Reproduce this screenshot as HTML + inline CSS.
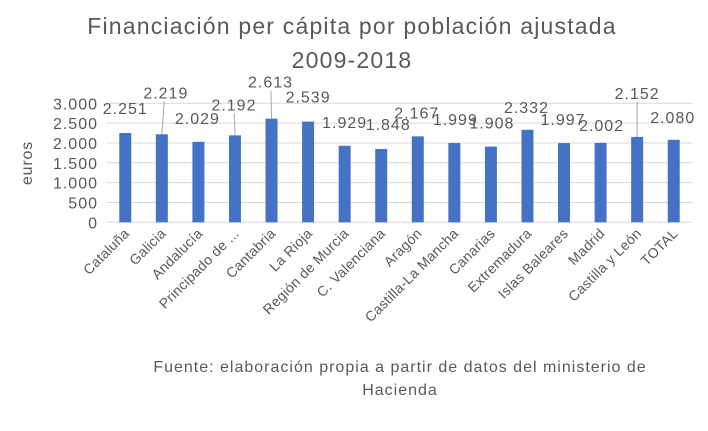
<!DOCTYPE html>
<html><head><meta charset="utf-8"><style>
body{margin:0;background:#fff}
svg text{font-family:"Liberation Sans",sans-serif;fill:#595959}
</style></head><body>
<svg width="708" height="426" id="c">
<text x="352" y="34" font-size="23" letter-spacing="1.2" text-anchor="middle">Financiación per cápita por población ajustada</text>
<text x="352" y="68" font-size="23" letter-spacing="1.2" text-anchor="middle">2009-2018</text>
<text transform="translate(32,163) rotate(-90)" font-size="16" letter-spacing="0.8" text-anchor="middle">euros</text>
<text x="400" y="372" font-size="16" letter-spacing="1" text-anchor="middle">Fuente: elaboración propia a partir de datos del ministerio de</text>
<text x="400" y="395" font-size="16" letter-spacing="1" text-anchor="middle">Hacienda</text>
<g id="grid"></g><g id="bars"></g><g id="labels"></g><g id="xl"></g>
</svg>
<script>
const categories=["Cataluña","Galicia","Andalucía","Principado de ...","Cantabria","La Rioja","Región de Murcia","C. Valenciana","Aragón","Castilla-La Mancha","Canarias","Extremadura","Islas Baleares","Madrid","Castilla y León","TOTAL"];
const values=[2251,2219,2029,2192,2613,2539,1929,1848,2167,1999,1908,2332,1997,2002,2152,2080];
const valueLabels=["2.251","2.219","2.029","2.192","2.613","2.539","1.929","1.848","2.167","1.999","1.908","2.332","1.997","2.002","2.152","2.080"];
const yTicks=[0,500,1000,1500,2000,2500,3000];
const yTickLabels=["0","500","1.000","1.500","2.000","2.500","3.000"];
// label offsets (pixels): dx from bar center, dy from bar top; leader flag
const labelDx=[0,4,-1,-1,-1,0,0,7,-1,1,1,-1,-1,1,0,-1];
const labelDy=[-20,-37,-19,-26,-32,-20,-19,-20,-19,-19,-19,-18,-19,-13,-39,-18];
const leader=[0,1,0,1,1,0,0,0,0,0,0,0,0,0,1,0];
const NS="http://www.w3.org/2000/svg";
const X0=107,X1=692,Y0=222.3,Y1=103.3,YMAX=3000;
const step=(X1-X0)/categories.length;
const xs=i=>X0+step*(i+0.5);
const ys=v=>Y0-(Y0-Y1)*v/YMAX;
function mk(t,a,p){const e=document.createElementNS(NS,t);for(const k in a)e.setAttribute(k,a[k]);document.getElementById(p).appendChild(e);return e;}
yTicks.forEach((t,i)=>{
 const l=mk("line",{x1:X0,x2:X1,y1:ys(t),y2:ys(t),stroke:"#d9d9d9","stroke-width":1},"grid");
 
 
 const tx=mk("text",{x:98,y:ys(t)+6,"font-size":16,"letter-spacing":1,"text-anchor":"end"},"grid");
 tx.textContent=yTickLabels[i];
 
 
});
values.forEach((v,i)=>{
 const cx=xs(i),top=ys(v);
 const r=mk("rect",{x:cx-6,y:top,width:12,height:Y0-top,fill:"#4472c4"},"bars");
 
 
 const ly=top+labelDy[i];
 if(leader[i]){
  const ln=mk("line",{x1:cx,y1:top,x2:cx+labelDx[i]*0.6,y2:ly+4,stroke:"#a6a6a6","stroke-width":1},"labels");
  
  
 }
 const t=mk("text",{x:cx+labelDx[i],y:ly+1,"font-size":16,"letter-spacing":1,"text-anchor":"middle"},"labels");
 t.textContent=valueLabels[i];
 
 
 const xl=mk("text",{transform:`translate(${cx+5},${Y0+12}) rotate(-45)`,"font-size":14,"letter-spacing":0.3,"text-anchor":"end"},"xl");
 xl.textContent=categories[i];
 
 
});
</script>
</body></html>
